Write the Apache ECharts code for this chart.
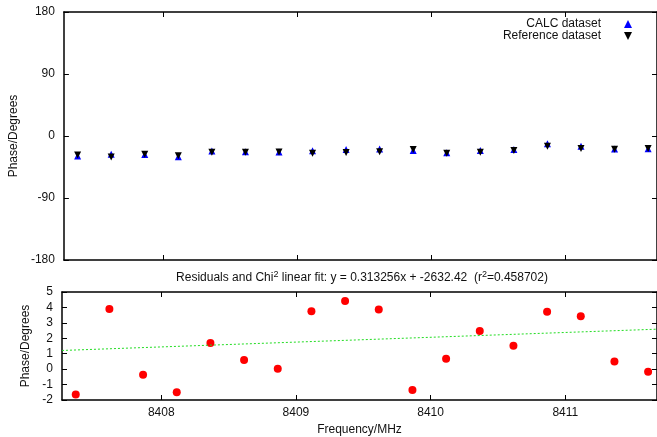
<!DOCTYPE html>
<html>
<head>
<meta charset="utf-8">
<script src="https://cdn.jsdelivr.net/npm/echarts@6/dist/echarts.min.js"></script>
<style>
  html, body { margin: 0; padding: 0; background: #fff; }
  #chart { width: 657px; height: 437px; }
</style>
</head>
<body>
<div id="chart"></div>
<script>
// frequencies (MHz) of the 18 channels
var freqs = [8407.365, 8407.615, 8407.865, 8408.115, 8408.365, 8408.615, 8408.865, 8409.115, 8409.365,
             8409.615, 8409.865, 8410.115, 8410.365, 8410.615, 8410.865, 8411.115, 8411.365, 8411.615];
// phases (degrees)
var calcPhase = [-29.1, -26.5, -26.8, -30.2, -21.9, -22.9, -23.2, -21.3, -19.6,
                 -18.9, -21.0, -24.4, -21.1, -19.6, -11.2, -14.8, -18.7, -18.5];
var refPhase  = [-27.5, -30.4, -26.4, -28.7, -23.6, -23.5, -23.2, -25.1, -24.0,
                 -22.7, -19.6, -25.0, -23.5, -21.1, -14.9, -18.2, -19.1, -18.3];
// residuals (degrees)
var residuals = [-1.64, 3.9, -0.36, -1.5, 1.7, 0.59, 0.03, 3.76, 4.42,
                 3.87, -1.35, 0.68, 2.47, 1.52, 3.72, 3.43, 0.49, -0.17];
// linear fit end points
var fitLine = [[8407.263, 1.21], [8411.681, 2.59]];

var xTicks = [8408, 8409, 8410, 8411];
var xMin = 8407.263, xMax = 8411.681;

var font = 'Liberation Sans, Arial, sans-serif';
var upTri = 'path://M5,0 L10,10 L0,10 Z';
var downTri = 'path://M0,0 L10,0 L5,10 Z';

function pairs(xs, ys) {
  return xs.map(function (x, i) { return [x, ys[i]]; });
}

var axisLine = { show: true, onZero: false, lineStyle: { color: '#000', width: 1.5 } };
var tickIn = { show: true, inside: true, length: 5, lineStyle: { color: '#000', width: 1 } };
var labelStyle = { color: '#111', fontSize: 12, fontFamily: font };

function borderX(grid, pos) {
  return { gridIndex: grid, type: 'value', position: pos, min: xMin, max: xMax, axisLine: axisLine,
    axisTick: Object.assign({ customValues: xTicks }, tickIn),
    axisLabel: { show: false }, splitLine: { show: false } };
}

var chart = echarts.init(document.getElementById('chart'));
chart.setOption({
  animation: false,
  backgroundColor: '#fff',
  textStyle: { fontFamily: font },
  title: {
    text: 'Residuals and Chi{sup|2} linear fit: y = 0.313256x + -2632.42  (r{sup|2}=0.458702)',
    left: 357, top: 265, textAlign: 'center',
    textStyle: {
      fontSize: 12, fontWeight: 'normal', color: '#111', fontFamily: font,
      rich: { sup: { fontSize: 9, verticalAlign: 'bottom', padding: [0, 0, 7, 0], fontFamily: font, color: '#111' } }
    }
  },
  legend: {
    orient: 'vertical', right: 20, top: 13, align: 'right',
    itemWidth: 8, itemHeight: 8, itemGap: 0,
    textStyle: { fontSize: 12, color: '#111', fontFamily: font, padding: [0, 18, 0, 0] },
    data: [
      { name: 'CALC dataset', icon: upTri, itemStyle: { color: '#0000ff', opacity: 1 } },
      { name: 'Reference dataset', icon: downTri, itemStyle: { color: '#000', opacity: 1 } }
    ]
  },
  grid: [
    { left: 62, right: 0, top: 12, height: 248 },
    { left: 62, right: 0, top: 292, height: 108 }
  ],
  xAxis: [
    borderX(0, 'bottom'),
    borderX(0, 'top'),
    { gridIndex: 1, type: 'value', position: 'bottom', min: xMin, max: xMax, axisLine: axisLine,
      axisTick: Object.assign({ customValues: xTicks }, tickIn),
      axisLabel: Object.assign({ customValues: xTicks, margin: 7,
        formatter: function (v) { return String(v); } }, labelStyle),
      splitLine: { show: false },
      name: 'Frequency/MHz', nameLocation: 'middle', nameGap: 24,
      nameTextStyle: labelStyle },
    borderX(1, 'top')
  ],
  yAxis: [
    { gridIndex: 0, type: 'value', min: -180, max: 180, interval: 90,
      axisLine: axisLine, axisTick: tickIn, splitLine: { show: false },
      axisLabel: Object.assign({ margin: 9 }, labelStyle),
      name: 'Phase/Degrees', nameLocation: 'middle', nameGap: 42, nameTextStyle: labelStyle },
    { gridIndex: 0, type: 'value', position: 'right', min: -180, max: 180, interval: 90,
      axisLine: axisLine, axisTick: tickIn, splitLine: { show: false }, axisLabel: { show: false } },
    { gridIndex: 1, type: 'value', min: -2, max: 5, interval: 1,
      axisLine: axisLine, axisTick: tickIn, splitLine: { show: false },
      axisLabel: Object.assign({ margin: 9 }, labelStyle),
      name: 'Phase/Degrees', nameLocation: 'middle', nameGap: 30, nameTextStyle: labelStyle },
    { gridIndex: 1, type: 'value', position: 'right', min: -2, max: 5, interval: 1,
      axisLine: axisLine, axisTick: tickIn, splitLine: { show: false }, axisLabel: { show: false } }
  ],
  series: [
    {
      name: 'CALC dataset', type: 'scatter', xAxisIndex: 0, yAxisIndex: 0,
      symbol: upTri, symbolSize: 7, itemStyle: { color: '#0000ff', opacity: 1 },
      data: pairs(freqs, calcPhase)
    },
    {
      name: 'Reference dataset', type: 'scatter', xAxisIndex: 0, yAxisIndex: 0,
      symbol: downTri, symbolSize: 7, itemStyle: { color: '#000000', opacity: 1 },
      data: pairs(freqs, refPhase)
    },
    {
      name: 'Residuals', type: 'scatter', xAxisIndex: 2, yAxisIndex: 2,
      symbol: 'circle', symbolSize: 8, itemStyle: { color: '#ff0000', opacity: 1 },
      data: pairs(freqs, residuals)
    },
    {
      name: 'Fit', type: 'line', xAxisIndex: 2, yAxisIndex: 2,
      showSymbol: false, symbol: 'none',
      lineStyle: { color: '#22dd22', width: 1, type: [2, 2] },
      data: fitLine
    }
  ]
});
</script>
</body>
</html>
